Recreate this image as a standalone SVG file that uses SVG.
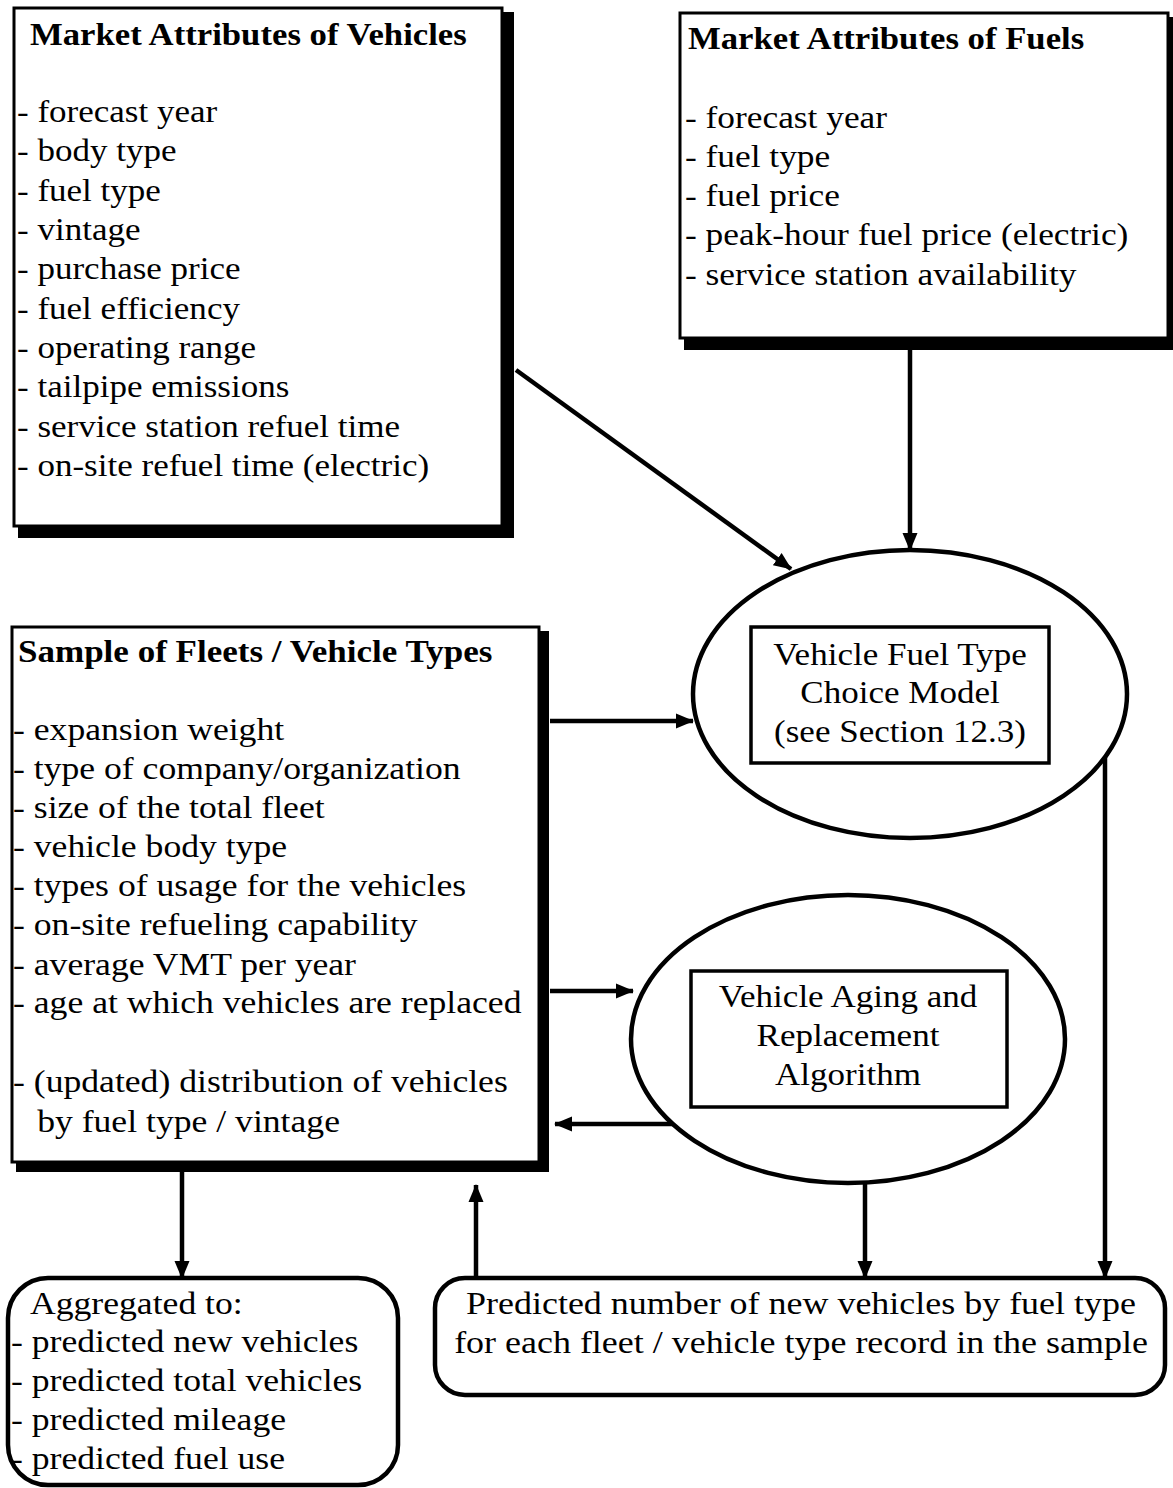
<svg xmlns="http://www.w3.org/2000/svg" width="1173" height="1488" viewBox="0 0 1173 1488">
  <defs>
    <marker id="arrow" markerUnits="userSpaceOnUse" markerWidth="20" markerHeight="16" refX="17" refY="8" orient="auto">
      <path d="M0,0.5 L18,8 L0,15.5 z" fill="#000"/>
    </marker>
  </defs>
  <style>
    .box { fill: #fff; stroke: #000; stroke-width: 3; }
    .shadow { fill: #000; }
    .oval { fill: #fff; stroke: #000; stroke-width: 4.5; }
    .inner { fill: none; stroke: #000; stroke-width: 3.5; }
    .round { fill: #fff; stroke: #000; stroke-width: 4.5; }
    .conn { fill: none; stroke: #000; stroke-width: 4.5; marker-end: url(#arrow); }
    text { font-family: "Liberation Serif", "Times New Roman", serif; font-size: 31px; fill: #000; }
    .title { font-weight: bold; }
    .mid { text-anchor: middle; }
  </style>

  <rect width="1173" height="1488" fill="#fff"/>

  <!-- Market attributes of vehicles -->
  <g id="vehicle-attributes">
    <rect class="shadow" x="18" y="12" width="496" height="526"/>
    <rect class="box" x="14" y="8" width="488" height="518"/>
    <g transform="translate(30 0) scale(1.12 1)">
      <text class="title" x="0" y="45">Market Attributes of Vehicles</text>
    </g>
    <g transform="translate(17 0) scale(1.13 1)">
      <text x="0" y="122">- forecast year</text>
      <text x="0" y="161">- body type</text>
      <text x="0" y="201">- fuel type</text>
      <text x="0" y="240">- vintage</text>
      <text x="0" y="279">- purchase price</text>
      <text x="0" y="319">- fuel efficiency</text>
      <text x="0" y="358">- operating range</text>
      <text x="0" y="397">- tailpipe emissions</text>
      <text x="0" y="437">- service station refuel time</text>
      <text x="0" y="476">- on-site refuel time (electric)</text>
    </g>
  </g>

  <!-- Market attributes of fuels -->
  <g id="fuel-attributes">
    <rect class="shadow" x="684" y="17" width="496" height="333"/>
    <rect class="box" x="680" y="13" width="488" height="325"/>
    <g transform="translate(688 0) scale(1.12 1)">
      <text class="title" x="0" y="49">Market Attributes of Fuels</text>
    </g>
    <g transform="translate(685 0) scale(1.14 1)">
      <text x="0" y="128">- forecast year</text>
      <text x="0" y="167">- fuel type</text>
      <text x="0" y="206">- fuel price</text>
      <text x="0" y="245">- peak-hour fuel price (electric)</text>
      <text x="0" y="285">- service station availability</text>
    </g>
  </g>

  <!-- Sample of fleets / vehicle types -->
  <g id="fleet-sample">
    <rect class="shadow" x="16" y="631" width="533" height="541"/>
    <rect class="box" x="12" y="627" width="527" height="535"/>
    <g transform="translate(18 0) scale(1.13 1)">
      <text class="title" x="0" y="662">Sample of Fleets / Vehicle Types</text>
    </g>
    <g transform="translate(13 0) scale(1.15 1)">
      <text x="0" y="740">- expansion weight</text>
      <text x="0" y="779">- type of company/organization</text>
      <text x="0" y="818">- size of the total fleet</text>
      <text x="0" y="857">- vehicle body type</text>
      <text x="0" y="896">- types of usage for the vehicles</text>
      <text x="0" y="935">- on-site refueling capability</text>
      <text x="0" y="975">- average VMT per year</text>
      <text x="0" y="1013">- age at which vehicles are replaced</text>
      <text x="0" y="1092">- (updated) distribution of vehicles</text>
      <text x="21" y="1132">by fuel type / vintage</text>
    </g>
  </g>

  <!-- Fuel type choice model -->
  <g id="choice-model">
    <ellipse class="oval" cx="910" cy="694" rx="217" ry="144"/>
    <rect class="inner" x="751" y="627" width="298" height="136"/>
    <g transform="translate(900 0) scale(1.13 1)">
      <text class="mid" x="0" y="665">Vehicle Fuel Type</text>
      <text class="mid" x="0" y="703">Choice Model</text>
      <text class="mid" x="0" y="742">(see Section 12.3)</text>
    </g>
  </g>

  <!-- Aging and replacement algorithm -->
  <g id="aging-model">
    <ellipse class="oval" cx="848" cy="1039" rx="217" ry="144"/>
    <rect class="inner" x="691" y="971" width="316" height="136"/>
    <g transform="translate(848 0) scale(1.13 1)">
      <text class="mid" x="0" y="1007">Vehicle Aging and</text>
      <text class="mid" x="0" y="1046">Replacement</text>
      <text class="mid" x="0" y="1085">Algorithm</text>
    </g>
  </g>

  <!-- Aggregated outputs -->
  <g id="aggregates">
    <rect class="round" x="8" y="1278" width="390" height="207" rx="40" ry="40"/>
    <g transform="translate(30 0) scale(1.15 1)">
      <text x="0" y="1314">Aggregated to:</text>
    </g>
    <g transform="translate(11 0) scale(1.15 1)">
      <text x="0" y="1352">- predicted new vehicles</text>
      <text x="0" y="1391">- predicted total vehicles</text>
      <text x="0" y="1430">- predicted mileage</text>
      <text x="0" y="1469">- predicted fuel use</text>
    </g>
  </g>

  <!-- Predicted new vehicles -->
  <g id="predictions">
    <rect class="round" x="435" y="1278" width="730" height="117" rx="30" ry="30"/>
    <g transform="translate(801 0) scale(1.16 1)">
      <text class="mid" x="0" y="1314">Predicted number of new vehicles by fuel type</text>
      <text class="mid" x="0" y="1353">for each fleet / vehicle type record in the sample</text>
    </g>
  </g>

  <!-- Connectors -->
  <g id="connectors">
    <path class="conn" d="M516,370 L791,569"/>
    <path class="conn" d="M910,350 L910,550"/>
    <path class="conn" d="M550,721 L693,721"/>
    <path class="conn" d="M550,991 L633,991"/>
    <path class="conn" d="M673,1124 L555,1124"/>
    <path class="conn" d="M1105,757 L1105,1278"/>
    <path class="conn" d="M865,1183 L865,1278"/>
    <path class="conn" d="M476,1278 L476,1185"/>
    <path class="conn" d="M182,1172 L182,1278"/>
  </g>
</svg>
